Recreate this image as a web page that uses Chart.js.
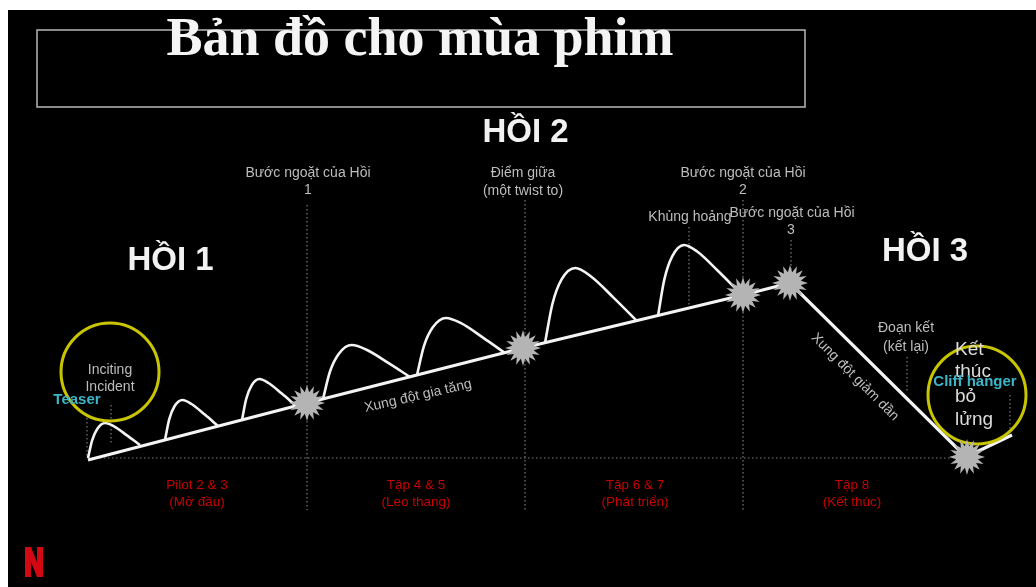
<!DOCTYPE html>
<html><head><meta charset="utf-8">
<script src="https://cdn.jsdelivr.net/npm/chart.js@4"></script>
<style>html,body{margin:0;padding:0;background:#fff;}canvas{display:block;}</style>
</head><body>
<canvas id="c" width="1036" height="587"></canvas>
<script>
// Units: x = story position, y = tension (abstract diagram units)
const mainLineX = [8.8, 30.7, 52.3, 74.3, 79.0, 96.6, 101.2];
const mainLineY = [12.7, 18.4, 23.9, 29.2, 30.4, 13.0, 15.2];

const humpX = [
  [8.8, 9.22, 9.74, 10.52, 11.4, 12.7, 14.0],
  [16.5, 16.92, 17.45, 18.25, 19.15, 20.48, 21.8],
  [24.2, 24.62, 25.15, 25.95, 26.85, 28.18, 29.5],
  [32.3, 33.0, 33.87, 35.17, 36.65, 38.83, 41.0],
  [41.7, 42.4, 43.28, 44.6, 46.1, 48.3, 50.5],
  [54.5, 55.24, 56.16, 57.54, 59.1, 61.4, 63.7],
  [65.8, 66.43, 67.22, 68.41, 69.75, 71.73, 73.7]
];
const humpY = [
  [12.9, 14.69, 15.83, 16.4, 16.07, 15.16, 14.2],
  [14.7, 16.76, 18.07, 18.7, 18.3, 17.24, 16.1],
  [16.7, 18.8, 20.14, 20.8, 20.4, 19.34, 18.2],
  [18.8, 21.55, 23.31, 24.2, 23.73, 22.41, 21.0],
  [21.2, 24.11, 25.97, 26.9, 26.38, 24.94, 23.4],
  [24.4, 28.3, 30.76, 31.9, 31.05, 28.89, 26.6],
  [27.1, 30.74, 33.06, 34.2, 33.52, 31.67, 29.7]
];

const turningX = [30.7, 52.3, 74.3, 79.0, 96.7];
const turningY = [18.4, 23.9, 29.2, 30.4, 13.0];

const circleX = [11.0, 97.7];
const circleY = [21.5, 19.2];

const guideX = [[30.7,30.7],[52.5,52.5],[74.3,74.3],[79.1,79.1],[68.9,68.9],[8.7,8.7],[11.1,11.1],[90.7,90.7],[101.0,101.0],[8.8,95.0]];
const guideY = [[38.2,7.7],[38.7,7.7],[38.7,7.7],[34.7,31.2],[36.0,28.2],[16.9,12.9],[18.2,14.4],[23.0,19.4],[19.2,15.7],[12.9,12.9]];

const SANS = '"Liberation Sans", Arial, sans-serif';
const notes = [
  {t:'HỒI 1', x:17.05, y:32.6, f:'bold 33px '+SANS, c:'#f2f2f2'},
  {t:'HỒI 2', x:52.55, y:45.4, f:'bold 33px '+SANS, c:'#f2f2f2'},
  {t:'HỒI 3', x:92.5, y:33.5, f:'bold 33px '+SANS, c:'#f2f2f2'},
  {t:'Bước ngoặt của Hồi', x:30.8, y:41.4, f:'14px '+SANS, c:'#bdbdbd'},
  {t:'1', x:30.8, y:39.7, f:'14px '+SANS, c:'#bdbdbd'},
  {t:'Điểm giữa', x:52.3, y:41.4, f:'14px '+SANS, c:'#bdbdbd'},
  {t:'(một twist to)', x:52.3, y:39.6, f:'14px '+SANS, c:'#bdbdbd'},
  {t:'Bước ngoặt của Hồi', x:74.3, y:41.4, f:'14px '+SANS, c:'#bdbdbd'},
  {t:'2', x:74.3, y:39.7, f:'14px '+SANS, c:'#bdbdbd'},
  {t:'Khủng hoảng', x:69.0, y:37.0, f:'14px '+SANS, c:'#bdbdbd'},
  {t:'Bước ngoặt của Hồi', x:79.2, y:37.4, f:'14px '+SANS, c:'#bdbdbd'},
  {t:'3', x:79.1, y:35.7, f:'14px '+SANS, c:'#bdbdbd'},
  {t:'Inciting', x:11.0, y:21.7, f:'14px '+SANS, c:'#bdbdbd'},
  {t:'Incident', x:11.0, y:20.0, f:'14px '+SANS, c:'#bdbdbd'},
  {t:'Teaser', x:7.7, y:18.7, f:'bold 15px '+SANS, c:'#3cb6c8'},
  {t:'Xung đột gia tăng', x:41.8, y:19.1, f:'14px '+SANS, c:'#bdbdbd', r:-13},
  {t:'Xung đột giảm dần', x:85.5, y:21.0, f:'14px '+SANS, c:'#bdbdbd', r:45},
  {t:'Đoạn kết', x:90.6, y:25.9, f:'14px '+SANS, c:'#bdbdbd'},
  {t:'(kết lại)', x:90.6, y:24.0, f:'14px '+SANS, c:'#bdbdbd'},
  {t:'Kết', x:95.5, y:23.7, f:'19px '+SANS, c:'#dcdcdc', a:'left'},
  {t:'thúc', x:95.5, y:21.5, f:'19px '+SANS, c:'#dcdcdc', a:'left'},
  {t:'bỏ', x:95.5, y:19.0, f:'19px '+SANS, c:'#dcdcdc', a:'left'},
  {t:'lửng', x:95.5, y:16.7, f:'19px '+SANS, c:'#dcdcdc', a:'left'},
  {t:'Cliff hanger', x:97.5, y:20.5, f:'bold 15px '+SANS, c:'#3cb6c8'},
  {t:'Pilot 2 & 3', x:19.7, y:10.2, f:'13.5px '+SANS, c:'#c80000'},
  {t:'(Mở đầu)', x:19.7, y:8.5, f:'13.5px '+SANS, c:'#c80000'},
  {t:'Tập 4 & 5', x:41.6, y:10.2, f:'13.5px '+SANS, c:'#c80000'},
  {t:'(Leo thang)', x:41.6, y:8.5, f:'13.5px '+SANS, c:'#c80000'},
  {t:'Tập 6 & 7', x:63.5, y:10.2, f:'13.5px '+SANS, c:'#c80000'},
  {t:'(Phát triển)', x:63.5, y:8.5, f:'13.5px '+SANS, c:'#c80000'},
  {t:'Tập 8', x:85.2, y:10.2, f:'13.5px '+SANS, c:'#c80000'},
  {t:'(Kết thúc)', x:85.2, y:8.5, f:'13.5px '+SANS, c:'#c80000'}
];
const titleText = 'Bản đồ cho mùa phim';

// spiky burst marker
function burst(r, ri, n){
  const cv = document.createElement('canvas');
  cv.width = cv.height = Math.ceil(r*2+2);
  const g = cv.getContext('2d'), c = cv.width/2;
  g.beginPath();
  for(let i=0;i<n*2;i++){
    const rr = i%2===0 ? r : ri, a = Math.PI*i/n - Math.PI/2;
    const px = c + rr*Math.cos(a), py = c + rr*Math.sin(a);
    i===0 ? g.moveTo(px,py) : g.lineTo(px,py);
  }
  g.closePath(); g.fillStyle = '#b4b4b4'; g.fill();
  return cv;
}
const star = burst(18, 11, 16);

const pts = (xs, ys) => xs.map((x,i)=>({x, y: ys[i]}));
const datasets = [];
datasets.push({type:'scatter', data: pts(turningX, turningY), pointStyle: star, pointRadius: 18, order: 0});
datasets.push({type:'scatter', data: pts(circleX, circleY), pointStyle:'circle', pointRadius: 49, pointBorderWidth: 3,
  pointBorderColor:'#c8c400', pointBackgroundColor:'rgba(0,0,0,0)', order: 1});
datasets.push({type:'line', data: pts(mainLineX, mainLineY), borderColor:'#f4f4f4', borderWidth: 3.2, pointRadius: 0, tension: 0, order: 2});
humpX.forEach((hx,i)=>datasets.push({type:'line', data: pts(hx, humpY[i]), borderColor:'#f4f4f4', borderWidth: 2.6,
  pointRadius: 0, cubicInterpolationMode: 'monotone', order: 3}));
guideX.forEach((gx,i)=>datasets.push({type:'line', data: pts(gx, guideY[i]), borderColor:'#7a7a7a', borderWidth: 1.2,
  borderDash:[1.5,2.5], pointRadius: 0, tension: 0, order: 5}));

const deco = {
  id:'deco',
  beforeDraw(chart){
    const ctx = chart.ctx;
    ctx.save();
    ctx.fillStyle = '#fff'; ctx.fillRect(0,0,chart.width,chart.height);
    ctx.fillStyle = '#000'; ctx.fillRect(8,10,chart.width-8,chart.height-10);
    ctx.restore();
  },
  afterDatasetsDraw(chart){
    const ctx = chart.ctx, xs = chart.scales.x, ys = chart.scales.y;
    const X = v => xs.getPixelForValue(v), Y = v => ys.getPixelForValue(v);
    ctx.save();
    // title box
    ctx.strokeStyle = '#b8b8b8'; ctx.lineWidth = 1.5;
    ctx.strokeRect(X(3.7), Y(55.7), X(80.5)-X(3.7), Y(48.0)-Y(55.7));
    ctx.fillStyle = '#f4f4f4';
    ctx.font = 'bold 54px "Liberation Serif", "Times New Roman", serif';
    ctx.textAlign = 'center'; ctx.textBaseline = 'alphabetic';
    ctx.fillText(titleText, X(42.0), Y(53.2));
    // notes
    ctx.textBaseline = 'middle';
    notes.forEach(n=>{
      ctx.save();
      ctx.font = n.f; ctx.fillStyle = n.c; ctx.textAlign = n.a || 'center';
      ctx.translate(X(n.x), Y(n.y));
      if(n.r) ctx.rotate(n.r*Math.PI/180);
      ctx.fillText(n.t, 0, 0);
      ctx.restore();
    });
    // Netflix N mark
    const l = X(2.5), r = X(4.3), t = Y(4.0), b = Y(1.0), w = (r-l)*0.33;
    ctx.fillStyle = '#d40812';
    ctx.fillRect(l, t, w, b-t);
    ctx.fillRect(r-w, t, w, b-t);
    ctx.beginPath(); ctx.moveTo(l,t); ctx.lineTo(l+w,t); ctx.lineTo(r,b); ctx.lineTo(r-w,b); ctx.closePath(); ctx.fill();
    ctx.restore();
  }
};

new Chart(document.getElementById('c'), {
  data: { datasets },
  options: {
    responsive: false, animation: false,
    layout: { padding: 0, autoPadding: false },
    plugins: { legend: {display:false}, tooltip: {enabled:false} },
    scales: {
      x: { type:'linear', min: 0, max: 103.6, display: false },
      y: { type:'linear', min: 0, max: 58.7, display: false }
    }
  },
  plugins: [deco]
});
</script>
</body></html>
